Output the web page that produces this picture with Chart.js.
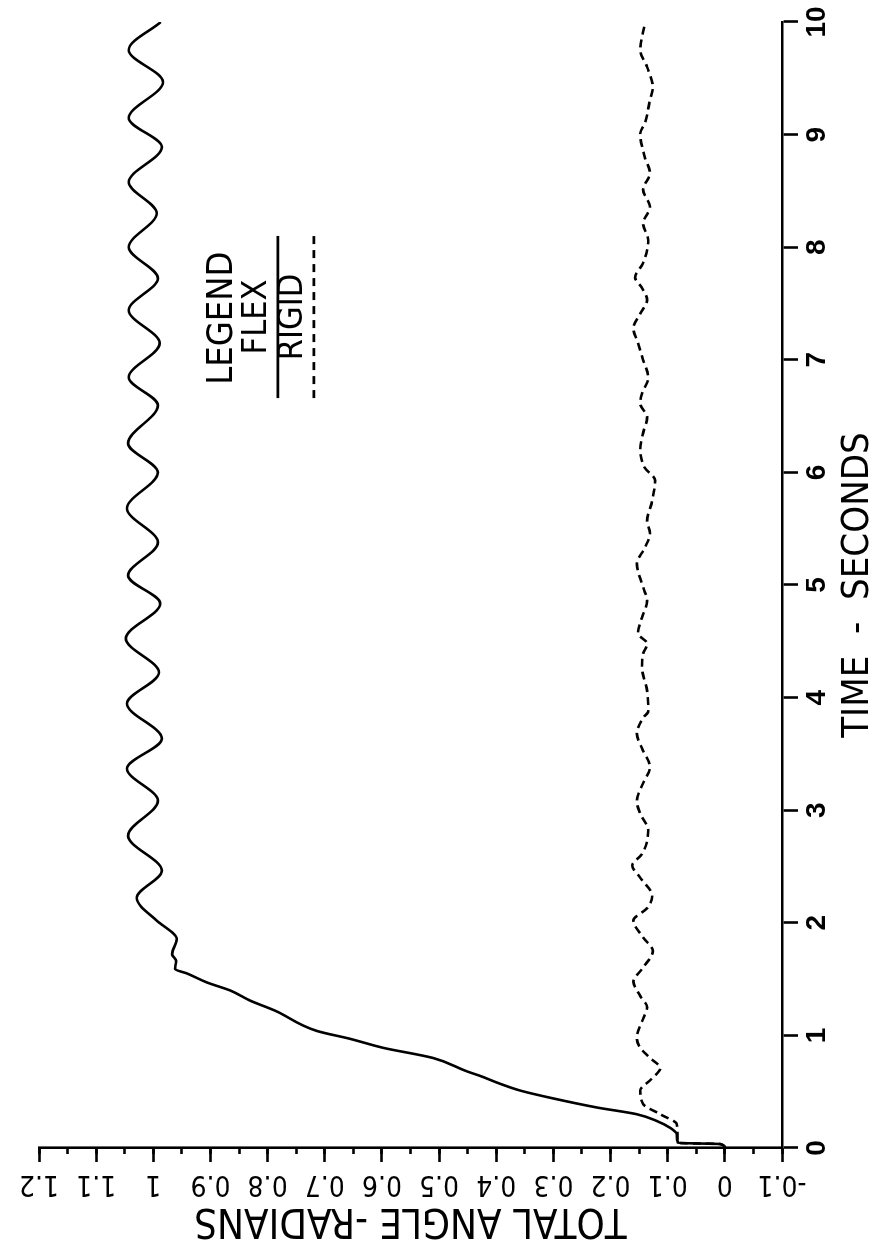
<!DOCTYPE html>
<html>
<head>
<meta charset="utf-8">
<title>Total angle vs time</title>
<script src="https://cdn.jsdelivr.net/npm/chart.js@4.4.1/dist/chart.umd.min.js"></script>
<style>
  html, body { margin: 0; padding: 0; background: #fff; overflow: hidden; }
  #page { position: relative; width: 883px; height: 1250px; }
  /* the plot is drawn landscape, then turned a quarter turn left like the scan */
  #wrap { position: absolute; left: 0; top: 0; width: 1250px; height: 883px;
          transform-origin: 0 0; transform: translateY(1250px) rotate(-90deg); }
</style>
</head>
<body>
<div id="page"><div id="wrap"><canvas id="angleChart" width="1250" height="883"></canvas></div></div>
<script>
// time (s) and total angle (rad)
const flexTime = [0, 0.035, 0.045, 0.12, 0.18, 0.24, 0.30, 0.36, 0.44, 0.51, 0.57, 0.64, 0.68, 0.80, 0.89, 0.97, 1.04, 1.22, 1.31, 1.40, 1.47, 1.55, 1.59, 1.66, 1.72, 1.86, 1.91, 2.02, 2.222,
  2.462, 2.773, 3.084, 3.369, 3.636, 3.947, 4.222, 4.524, 4.836, 5.084, 5.378, 5.68, 6.0, 6.258, 6.596, 6.844, 7.147, 7.44, 7.724, 8.0, 8.302, 8.578, 8.889, 9.147, 9.467, 9.751, 10.0]
const flexAngle = [0, 0.008, 0.082, 0.084, 0.096, 0.119, 0.154, 0.224, 0.300, 0.358, 0.393, 0.428, 0.451, 0.511, 0.598, 0.656, 0.714, 0.787, 0.831, 0.866, 0.906, 0.941, 0.962, 0.960, 0.967, 0.959, 0.966, 0.994, 1.029,
  0.985, 1.044, 0.992, 1.046, 0.985, 1.046, 0.990, 1.048, 0.988, 1.044, 0.992, 1.046, 0.992, 1.044, 0.992, 1.043, 0.989, 1.043, 0.992, 1.043, 0.994, 1.043, 0.985, 1.043, 0.983, 1.043, 0.987]

const rigidTime = [0, 0.035, 0.045, 0.12, 0.21, 0.30, 0.39, 0.51, 0.61, 0.71, 0.80, 0.89, 0.98, 1.16, 1.25, 1.35, 1.48, 1.59, 1.75, 1.87, 2.02, 2.13, 2.24, 2.40, 2.51, 2.61, 2.82, 2.97,
  3.08, 3.24, 3.38, 3.55, 3.68, 3.82, 3.88, 4.06, 4.27, 4.39, 4.48, 4.57, 4.71, 4.86, 4.98, 5.19, 5.33, 5.46, 5.57, 5.75, 5.93, 6.04, 6.20, 6.35, 6.49, 6.61,
  6.70, 6.84, 7.00, 7.15, 7.28, 7.41, 7.53, 7.64, 7.73, 7.86, 8.06, 8.21, 8.36, 8.51, 8.66, 8.80, 9.01, 9.10, 9.31, 9.42, 9.60, 9.75, 9.99]
const rigidAngle = [0, 0.008, 0.082, 0.083, 0.084, 0.113, 0.143, 0.148, 0.129, 0.113, 0.131, 0.148, 0.154, 0.142, 0.136, 0.148, 0.160, 0.145, 0.126, 0.143, 0.160, 0.136, 0.127, 0.148, 0.162, 0.145, 0.134, 0.148,
  0.154, 0.143, 0.131, 0.145, 0.154, 0.143, 0.134, 0.136, 0.145, 0.143, 0.136, 0.152, 0.145, 0.136, 0.143, 0.154, 0.140, 0.131, 0.136, 0.127, 0.122, 0.140, 0.148, 0.143, 0.136, 0.148,
  0.145, 0.134, 0.143, 0.152, 0.160, 0.148, 0.136, 0.145, 0.157, 0.143, 0.134, 0.143, 0.131, 0.143, 0.131, 0.140, 0.148, 0.140, 0.131, 0.126, 0.136, 0.148, 0.140]

const seriesNames = ['FLEX', 'RIGID']
const timeRange = [0, 10]
const angleRange = [-0.1, 1.2]
const timeTitle = 'TIME  -  SECONDS'
const angleTitle = 'TOTAL ANGLE -RADIANS'
const legendTitle = 'LEGEND'

const narrow = "'Liberation Sans Narrow', 'DejaVu Sans Condensed', 'Liberation Sans', sans-serif"
const ink = '#000'

const toPoints = (xs, ys) => xs.map((t, i) => ({ x: t, y: ys[i] }))

// the legend block sits inside the plot, text over a line sample
const plotLegend = {
    id: 'plotLegend',
    afterDatasetsDraw(chart) {
        const { ctx, scales: { x, y } } = chart
        ctx.save()
        ctx.fillStyle = ink
        ctx.strokeStyle = ink
        ctx.textAlign = 'center'
        ctx.textBaseline = 'middle'

        ctx.font = `36px ${narrow}`
        ctx.fillText(legendTitle, x.getPixelForValue(7.37), y.getPixelForValue(0.878))

        chart.data.datasets.forEach((ds, i) => {
            let step = i * 0.063
            ctx.font = `34px ${narrow}`
            ctx.fillText(ds.label, x.getPixelForValue(7.38), y.getPixelForValue(0.819 - step))
            let ly = y.getPixelForValue(0.782 - step)
            ctx.lineWidth = ds.borderWidth
            ctx.setLineDash(ds.legendDash || [])
            ctx.beginPath()
            ctx.moveTo(x.getPixelForValue(6.66), ly)
            ctx.lineTo(x.getPixelForValue(8.10), ly)
            ctx.stroke()
        })
        ctx.restore()
    }
}

const fmtAngle = v => String(Math.round(v * 10) / 10)

new Chart(document.getElementById('angleChart'), {
    type: 'line',
    data: {
        datasets: [{
            label: seriesNames[0],
            data: toPoints(flexTime, flexAngle),
            borderColor: ink,
            borderWidth: 2.6,
            pointRadius: 0,
            cubicInterpolationMode: 'monotone',
            fill: false
        }, {
            label: seriesNames[1],
            data: toPoints(rigidTime, rigidAngle),
            borderColor: ink,
            borderWidth: 2.6,
            borderDash: [8, 5],
            legendDash: [8, 6],
            pointRadius: 0,
            cubicInterpolationMode: 'monotone',
            fill: false
        }]
    },
    options: {
        responsive: false,
        animation: false,
        devicePixelRatio: 1,
        layout: { padding: { left: 0, right: 22, top: 39, bottom: 0 } },
        plugins: { legend: { display: false }, tooltip: { enabled: false } },
        scales: {
            x: {
                type: 'linear',
                min: timeRange[0],
                max: timeRange[1],
                afterFit: s => { s.height = 101 },
                border: { display: true, color: ink, width: 2.6 },
                grid: { drawOnChartArea: false, drawTicks: true, tickLength: 16, tickWidth: 2.6, tickColor: ink },
                ticks: {
                    stepSize: 1,
                    padding: 5,
                    color: ink,
                    maxRotation: 0,
                    font: { family: 'Liberation Sans, sans-serif', size: 28, weight: 'bold', lineHeight: 1 }
                },
                title: {
                    display: true,
                    text: timeTitle,
                    color: ink,
                    font: { family: narrow, size: 38, lineHeight: 1 },
                    padding: { top: 0, bottom: 6 }
                }
            },
            y: {
                type: 'linear',
                position: 'left',
                weight: 1,
                min: angleRange[0],
                max: angleRange[1],
                afterFit: s => { s.width = 102 },
                border: { display: true, color: ink, width: 2.6 },
                grid: { drawOnChartArea: false, drawTicks: true, tickLength: 14, tickWidth: 2.6, tickColor: ink },
                ticks: {
                    stepSize: 0.1,
                    autoSkip: false,
                    minRotation: 90,
                    maxRotation: 90,
                    crossAlign: 'center',
                    padding: -3,
                    color: ink,
                    callback: fmtAngle,
                    font: { family: narrow, size: 28, lineHeight: 1 }
                },
                title: {
                    display: true,
                    text: angleTitle,
                    color: ink,
                    font: { family: narrow, size: 40, lineHeight: 1 },
                    padding: { top: 11, bottom: 0 }
                }
            },
            yMinor: {
                type: 'linear',
                position: 'left',
                weight: 0,
                min: angleRange[0],
                max: angleRange[1],
                afterFit: s => { s.width = 0 },
                border: { display: false },
                grid: { drawOnChartArea: false, drawTicks: true, tickLength: 6, tickWidth: 2.6, tickColor: ink },
                ticks: { stepSize: 0.05, autoSkip: false, display: false }
            }
        }
    },
    plugins: [plotLegend]
})
</script>
</body>
</html>
